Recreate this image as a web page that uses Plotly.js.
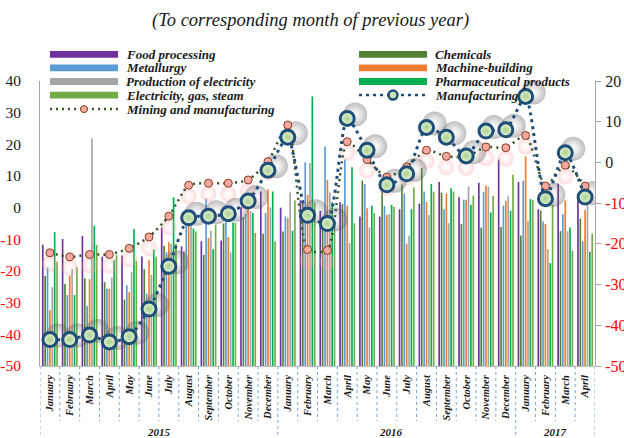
<!DOCTYPE html>
<html><head><meta charset="utf-8">
<script src="https://cdn.plot.ly/plotly-3.0.1.min.js"></script>
<style>html,body{margin:0;padding:0;background:#fff}#chart{width:624px;height:438px}</style>
</head><body><div id="chart"></div>
<script>
// ---------- DATA ----------
const months = ['January','February','March','April','May','June','July','August','September','October','November','December',
  'January','February','March','April','May','June','July','August','September','October','November','December',
  'January','February','March','April'];
const years = ['2015','2016','2017'];
const foodProcessing = [-11.7,-9.9,-8.9,-15.5,-15.1,-15.4,-6.2,-12.2,-10.6,-10.4,0.1,5.1,0.0,2.3,-1.0,1.7,-2.8,-2.8,-0.5,1.3,8.1,3.3,7.9,15.2,8.1,-0.5,7.6,3.0];
const chemicals      = [-21.6,-24.1,-22.3,-23.5,-29.0,-19.4,-12.0,-13.8,-14.9,-5.0,-3.0,-8.2,-7.5,1.5,-4.0,1.1,8.6,7.0,7.3,12.5,4.8,-5.1,-6.3,-6.1,-8.8,-0.9,-7.4,-3.5];
const metallurgy     = [-18.9,-27.6,-31.1,-25.6,-24.5,-27.1,-14.0,-3.0,2.9,-4.5,-2.0,-1.7,-2.8,14.3,19.3,15.2,7.5,0.5,4.5,5.1,-0.5,2.5,5.0,0.6,8.5,-4.4,-2.1,-10.6];
const machineBuilding= [-32.4,-21.6,-22.6,-25.6,-26.7,-16.6,-10.9,-2.0,-9.6,-9.3,1.0,5.8,-3.3,4.0,8.8,0.6,-0.2,-2.3,-11.4,1.8,4.5,2.5,7.0,2.1,16.2,-5.1,2.3,-0.7];
const prodElectricity= [-25.1,-19.4,21.9,-22.1,-20.3,-21.2,-11.4,-4.0,-7.2,-14.1,-1.0,0.1,4.8,14.1,4.8,-11.2,-6.2,-2.0,-8.9,-2.3,-4.9,6.7,6.6,3.6,-4.2,-13.1,-7.5,3.0];
const pharmaceutical = [-7.7,-27.6,-5.7,-16.6,-6.7,-13.2,3.3,-6.6,-13.1,-4.7,-1.7,5.1,-7.3,35.1,1.7,12.8,0.6,0.9,-0.5,7.5,6.1,0.9,-1.5,-1.0,2.7,-17.5,-6.3,-13.9];
const elecGasSteam   = [-17.1,-18.8,-11.8,-15.0,-16.8,-15.5,-11.4,-7.5,-5.4,-4.8,-8.0,-10.7,2.3,1.6,-5.0,-4.9,-1.7,0.2,6.4,5.1,5.1,3.8,3.7,10.4,2.5,1.0,-13.6,-8.2];
const miningManufacturing = [-22.2,-23.2,-22.6,-22.6,-21.1,-18.3,-13.2,-5.6,-5.1,-5.1,-4.3,0.2,9.2,-21.4,-21.6,5.1,0.7,-3.6,-1.1,3.0,1.5,1.4,3.8,3.6,6.6,-5.8,-0.7,-5.8];
const manufacturing  = [-43.5,-43.5,-42.4,-44.1,-42.8,-36.0,-25.5,-13.6,-13.2,-12.6,-9.5,-1.9,6.2,-13.0,-15.0,10.8,3.0,-5.5,-2.8,8.6,6.2,1.6,7.7,8.0,16.2,-8.9,2.4,-8.5];
const leftTicks  = [-50,-40,-30,-20,-10,0,10,20,30,40];
const rightTicks = [-50,-40,-30,-20,-10,0,10,20];

// ---------- LAYOUT HELPERS ----------
const FONT = "Liberation Serif, 'Times New Roman', serif";
const L=40, R=29, T=81, B=72, W=624-L-R, H=438-T-B;
const px = x => (x - L) / W;
const py = y => (T + H - y) / H;
const idx = months.map((m,i)=>i);
const YMIN = -50;
const tickTxt = v => v < 0 ? '<span style="color:#ff0000">' + v + '</span>' : String(v);

const barSeries = [
  {name:'Food processing', data:foodProcessing, color:'#7030a0'},
  {name:'Chemicals', data:chemicals, color:'#548235'},
  {name:'Metallurgy', data:metallurgy, color:'#5b9bd5'},
  {name:'Machine-building', data:machineBuilding, color:'#ed7d31'},
  {name:'Production of electricity', data:prodElectricity, color:'#a5a5a5'},
  {name:'Pharmaceutical products', data:pharmaceutical, color:'#00b050'},
  {name:'Electricity, gas, steam', data:elecGasSteam, color:'#70ad47'}
];

const traces = barSeries.map(s => ({
  type:'bar', name:s.name, x:idx, y:s.data.map(v => v - YMIN), base:YMIN,
  marker:{color:s.color, line:{width:0}}, hoverinfo:'skip'
}));

// faint pink glow under mining markers (shifted axis)
traces.push({type:'scatter', mode:'markers', x:idx, y:miningManufacturing, xaxis:'x', yaxis:'y3',
  marker:{size:16, color:'rgba(255,150,150,0.35)', gradient:{type:'radial', color:'rgba(255,200,200,0)'}, line:{width:0}}, hoverinfo:'skip'});
// soft shadow of manufacturing markers (shifted axes)
traces.push({type:'scatter', mode:'markers', x:idx, y:manufacturing, xaxis:'x2', yaxis:'y4',
  marker:{size:24, color:'rgba(90,90,90,0.4)', gradient:{type:'radial', color:'rgba(130,130,130,0)'}, line:{width:0}}, hoverinfo:'skip'});
// lines
traces.push({type:'scatter', mode:'lines+markers', name:'Mining and manufacturing', x:idx, y:miningManufacturing, xaxis:'x3', yaxis:'y2',
  line:{color:'#375623', width:2.5, dash:'2px,4px', shape:'spline', smoothing:0.6},
  marker:{size:8, color:'#f4a9a0', line:{color:'#8a3b1e', width:1}}, hoverinfo:'skip'});
traces.push({type:'scatter', mode:'lines+markers', name:'Manufacturing', x:idx, y:manufacturing, xaxis:'x3', yaxis:'y2',
  line:{color:'#1f4e79', width:3, dash:'3px,4px', shape:'spline', smoothing:0.6},
  marker:{size:14, color:'#e6f3d9', gradient:{type:'radial', color:'#a9d18e'}, line:{color:'#1f4e79', width:3}}, hoverinfo:'skip'});

// ---------- SHAPES / ANNOTATIONS ----------
const shapes = [];
const annotations = [];
const yearBreaks = [0, 12, 24, 28];
for (let i = 0; i <= months.length; i++) {
  const isYear = yearBreaks.includes(i);
  shapes.push({type:'line', xref:'x', yref:'paper', x0:i-0.5, x1:i-0.5, y0:0, y1:isYear ? py(438) : py(421),
    line:{color:'#7aa6d8', width:1, dash:'dot'}});
}
const yearPos = [5.5, 17.2, 25.5];
years.forEach((y,i) => annotations.push({text:y, xref:'x', yref:'paper', x:yearPos[i], y:py(432), showarrow:false,
  xanchor:'center', yanchor:'middle', font:{family:FONT, size:11, weight:'bold', style:'italic', color:'#1a1a1a'}}));
annotations.push({text:'(To corresponding month of previous year)', xref:'paper', yref:'paper', x:px(310), y:py(20),
  showarrow:false, xanchor:'center', yanchor:'middle', font:{family:FONT, size:18.5, style:'italic', color:'#1a1a1a'}});

const legendItems = [
  {label:'Food processing', color:'#7030a0', kind:'bar', x:50, y:54.4},
  {label:'Metallurgy', color:'#5b9bd5', kind:'bar', x:50, y:67.9},
  {label:'Production of electricity', color:'#a5a5a5', kind:'bar', x:50, y:81.5},
  {label:'Electricity, gas, steam', color:'#70ad47', kind:'bar', x:50, y:95.1},
  {label:'Mining and manufacturing', color:'#375623', kind:'mining', x:50, y:109.1},
  {label:'Chemicals', color:'#548235', kind:'bar', x:359, y:54.4},
  {label:'Machine-building', color:'#ed7d31', kind:'bar', x:359, y:67.9},
  {label:'Pharmaceutical products', color:'#00b050', kind:'bar', x:359, y:81.5},
  {label:'Manufacturing', color:'#1f4e79', kind:'manuf', x:359, y:95.1}
];
legendItems.forEach(it => {
  const x0 = it.x, x1 = it.x + 68, xm = it.x + 34;
  if (it.kind === 'bar') {
    shapes.push({type:'rect', xref:'paper', yref:'paper', x0:px(x0), x1:px(x1), y0:py(it.y+3.4), y1:py(it.y-3.4),
      fillcolor:it.color, line:{width:0}});
  } else if (it.kind === 'mining') {
    shapes.push({type:'line', xref:'paper', yref:'paper', x0:px(x0), x1:px(x1), y0:py(it.y), y1:py(it.y),
      line:{color:it.color, width:2.5, dash:'2px,4px'}});
    shapes.push({type:'circle', xref:'paper', yref:'paper', xsizemode:'pixel', ysizemode:'pixel', xanchor:px(xm), yanchor:py(it.y),
      x0:-3.5, x1:3.5, y0:-3.5, y1:3.5, fillcolor:'#f4a9a0', line:{color:'#8a3b1e', width:1}});
  } else {
    shapes.push({type:'line', xref:'paper', yref:'paper', x0:px(x0), x1:px(x1), y0:py(it.y), y1:py(it.y),
      line:{color:it.color, width:2.5, dash:'3px,4px'}});
    shapes.push({type:'circle', xref:'paper', yref:'paper', xsizemode:'pixel', ysizemode:'pixel', xanchor:px(xm), yanchor:py(it.y),
      x0:-4.5, x1:4.5, y0:-4.5, y1:4.5, fillcolor:'#c9e3b3', line:{color:'#1f4e79', width:2.5}});
  }
  annotations.push({text:it.label, xref:'paper', yref:'paper', x:px(it.x + 75), y:py(it.y), showarrow:false,
    xanchor:'left', yanchor:'middle', borderpad:0,
    font:{family:FONT, size:13, weight:'bold', style:'italic', color:'#1a1a1a'}});
});

const dx = 8 / (W / months.length);   // shadow shift right (px -> category units)
const sUp = 4 / (H / 70);             // shadow shift up
const gDown = 11 / (H / 70);          // glow shift down

const layout = {
  width:624, height:438, margin:{l:L, r:R, t:T, b:B, pad:0},
  paper_bgcolor:'#ffffff', plot_bgcolor:'rgba(0,0,0,0)', showlegend:false,
  barmode:'group', bargap:0.16, bargroupgap:0.3,
  font:{family:FONT, color:'#1a1a1a'},
  xaxis:{range:[-0.5, months.length-0.5], tickmode:'array', tickvals:idx, ticktext:months, tickangle:-90,
    ticks:'', showgrid:false, zeroline:false, showline:true, linecolor:'#bfbfbf', ticklabelstandoff:4,
    tickfont:{family:FONT, size:10.5, weight:'bold', style:'italic', color:'#1a1a1a'}},
  xaxis2:{overlaying:'x', range:[-0.5-dx, months.length-0.5-dx], visible:false},
  xaxis3:{overlaying:'x', range:[-0.5, months.length-0.5], visible:false},
  yaxis:{range:[-50,40], tickmode:'array', tickvals:leftTicks, ticktext:leftTicks.map(tickTxt), ticks:'',
    showgrid:false, zeroline:false, showline:true, linecolor:'#a6a6a6', ticklabelstandoff:15,
    tickfont:{family:FONT, size:15.5, color:'#1a1a1a'}},
  yaxis2:{overlaying:'y', side:'right', anchor:'free', position:1, range:[-50,20], tickmode:'array',
    tickvals:rightTicks, ticktext:rightTicks.map(tickTxt), ticks:'outside', ticklen:5, tickcolor:'#a6a6a6',
    showgrid:false, zeroline:false, showline:true, linecolor:'#a6a6a6', ticklabelstandoff:1,
    tickfont:{family:FONT, size:16, color:'#1a1a1a'}},
  yaxis3:{overlaying:'y', range:[-50+gDown, 20+gDown], visible:false},
  yaxis4:{overlaying:'y', range:[-50-sUp, 20-sUp], visible:false},
  shapes:shapes, annotations:annotations
};

Plotly.newPlot('chart', traces, layout, {staticPlot:true, displayModeBar:false});
</script></body></html>
